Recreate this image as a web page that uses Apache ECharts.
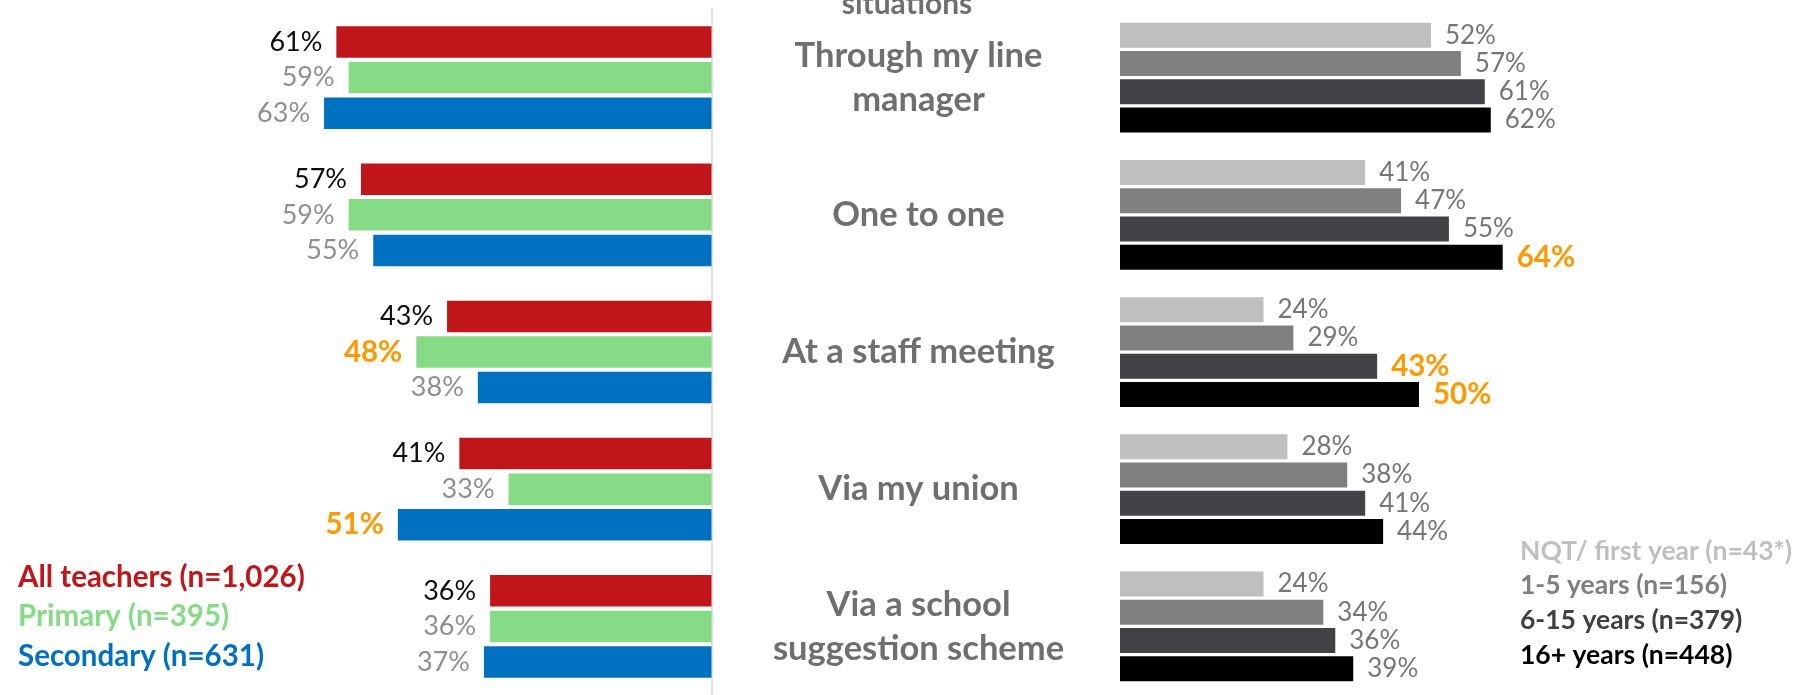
<!DOCTYPE html>
<html><head><meta charset="utf-8">
<script src="https://cdn.jsdelivr.net/npm/echarts@6/dist/echarts.min.js"></script>
<style>html,body{margin:0;padding:0;background:#fff}#c{width:1815px;height:695px}</style>
</head><body><div id="c"></div>
<script>
// ---- data ----
const categories = ['Through my line\nmanager', 'One to one', 'At a staff meeting', 'Via my union', 'Via a school\nsuggestion scheme'];
const phaseNames = ['All teachers (n=1,026)', 'Primary (n=395)', 'Secondary (n=631)'];
const allTeachers = [61, 57, 43, 41, 36];
const primary = [59, 59, 48, 33, 36];
const secondary = [63, 55, 38, 51, 37];
const expNames = ['NQT/ first year (n=43*)', '1-5 years (n=156)', '6-15 years (n=379)', '16+ years (n=448)'];
const nqt = [52, 41, 24, 28, 24];
const yrs1to5 = [57, 47, 29, 38, 34];
const yrs6to15 = [61, 55, 43, 41, 36];
const yrs16plus = [62, 64, 50, 44, 39];
const highlightLeft = [[], [2], [3]];
const highlightRight = [[], [], [2], [1, 2]];
const titleTail = 'situations';

// ---- styles ----
const FONT = 'Lato';
const leftColors = ['#C0161A', '#86DC86', '#0070C0'];
const leftLabelColors = ['#0D0D0D', '#8F8F8F', '#8F8F8F'];
const rightColors = ['#BFBFBF', '#808080', '#434347', '#000000'];
const rightLegendColors = ['#BFBFBF', '#7F7F7F', '#404040', '#000000'];
const ORANGE = '#FF9900';

function items(vals, hi) {
  return vals.map((v, i) => hi.indexOf(i) >= 0
    ? { value: v, label: { color: ORANGE, fontWeight: 'bold', fontSize: 29.5 } }
    : v);
}

const leftData = [allTeachers, primary, secondary];
const rightData = [nqt, yrs1to5, yrs6to15, yrs16plus];

const series = [];
leftData.forEach((d, k) => series.push({
  name: phaseNames[k], type: 'bar', xAxisIndex: 0, yAxisIndex: 0,
  barWidth: 31.5, barGap: '13%',
  itemStyle: { color: leftColors[k] },
  label: { show: true, position: 'left', distance: 14, formatter: '{c}%',
    color: leftLabelColors[k], fontFamily: FONT, fontSize: 27 },
  data: items(d, highlightLeft[k]),
  silent: true, animation: false
}));
rightData.forEach((d, k) => series.push({
  name: expNames[k], type: 'bar', xAxisIndex: 1, yAxisIndex: 1,
  barWidth: 25, barGap: '13%',
  itemStyle: { color: rightColors[k] },
  label: { show: true, position: 'right', distance: 14, formatter: '{c}%',
    color: '#767676', fontFamily: FONT, fontSize: 26 },
  data: items(d, highlightRight[k]),
  silent: true, animation: false
}));

const chart = echarts.init(document.getElementById('c'), null, { renderer: 'canvas' });
chart.setOption({
  animation: false,
  backgroundColor: '#ffffff',
  textStyle: { fontFamily: FONT },
  graphic: [{
    type: 'text', x: 907, y: 4,
    style: { text: titleTail, x: 0, y: 0, align: 'center', verticalAlign: 'middle',
      fill: '#6F6F6F', font: 'bold 30px ' + FONT }
  }],
  legend: [{
    orient: 'vertical', left: 8, top: 557, selectedMode: false,
    icon: 'rect', itemWidth: 0, itemHeight: 0, itemGap: 9.5,
    textStyle: { fontFamily: FONT, fontWeight: 'bold', fontSize: 29.5, lineHeight: 30 },
    data: phaseNames.map((n, k) => ({ name: n, textStyle: { color: leftColors[k] } }))
  }, {
    orient: 'vertical', left: 1510, top: 531, selectedMode: false,
    icon: 'rect', itemWidth: 0, itemHeight: 0, itemGap: 4.8,
    textStyle: { fontFamily: FONT, fontWeight: 'bold', fontSize: 26.5, lineHeight: 30 },
    data: expNames.map((n, k) => ({ name: n, textStyle: { color: rightLegendColors[k] } }))
  }],
  grid: [
    { left: 96.5, width: 615, top: 9, height: 688, containLabel: false },
    { left: 1120, width: 598, top: 9, height: 688, containLabel: false }
  ],
  xAxis: [
    { gridIndex: 0, type: 'value', min: 0, max: 100, inverse: true, show: false },
    { gridIndex: 1, type: 'value', min: 0, max: 100, show: false }
  ],
  yAxis: [
    { gridIndex: 0, type: 'category', data: categories, inverse: true, position: 'right',
      axisLine: { show: true, lineStyle: { color: '#D9D9D9', width: 1.5 } },
      axisTick: { show: false }, axisLabel: { show: false }, splitLine: { show: false } },
    { gridIndex: 1, type: 'category', data: categories, inverse: true, position: 'left',
      axisLine: { show: false }, axisTick: { show: false }, splitLine: { show: false },
      axisLabel: { show: true, margin: 201.5, align: 'center', color: '#6F6F6F',
        fontFamily: FONT, fontWeight: 'bold', fontSize: 34.5, lineHeight: 44 } }
  ],
  series: series
});
</script></body></html>
